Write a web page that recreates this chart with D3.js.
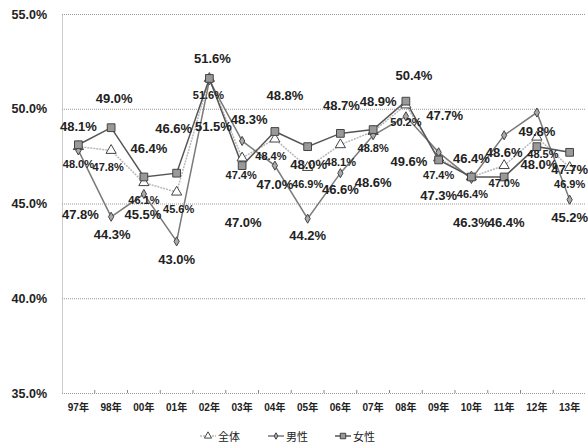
<!DOCTYPE html>
<html>
<head>
<meta charset="utf-8">
<script src="https://cdn.jsdelivr.net/npm/d3@7"></script>
<style>
  body { margin: 0; background: #fff; }
  svg { font-family: "Liberation Sans", Arial, sans-serif; }
</style>
</head>
<body>
<svg id="chart" width="588" height="446"></svg>
<script>
var years = ["97年","98年","00年","01年","02年","03年","04年","05年","06年","07年","08年","09年","10年","11年","12年","13年"];
var allVals   = [48.0,47.8,46.1,45.6,51.6,47.4,48.4,46.9,48.1,48.8,50.2,47.4,46.4,47.0,48.5,46.9];
var menVals   = [47.8,44.3,45.5,43.0,51.5,48.3,47.0,44.2,46.6,48.6,49.6,47.7,46.3,48.6,49.8,45.2];
var womenVals = [48.1,49.0,46.4,46.6,51.6,47.0,48.8,48.0,48.7,48.9,50.4,47.3,46.4,46.4,48.0,47.7];
var yTicks = [35,40,45,50,55];
var seriesNames = ["全体","男性","女性"];

// label nudges (px) relative to each marker, as placed in the original
var allDx   = [0,-3,0,2,-1,-1,-4,0,0,0,0,0,1,0,6,0];
var menDx   = [2,1,-1,0,4,7,0,0,0,0,3,6,0,0,0,0];
var menDy   = [64,18,20,18,46,-21,19,17,16,47,45,-37,44,17,19,18];
var womenDx = [0,3,5,-3,3,1,10,1,1,5,8,0,0,2,2,0];
var womenDy = [-18,-29,-28,-45,-20,57,-36,18,-28,-28,-26,36,-18,46,18,17];

var plotLeft = 62, plotRight = 586, plotTop = 14, plotBottom = 393;

var svg = d3.select("#chart");

var x = d3.scaleBand().domain(years).range([plotLeft, plotRight]);
var y = d3.scaleLinear().domain([35, 55]).range([plotBottom, plotTop]);
var cx = function(i) { return x(years[i]) + x.bandwidth() / 2; };

// grid + y labels
var yAxis = svg.append("g")
    .attr("transform", "translate(" + plotLeft + ",0)")
    .call(d3.axisLeft(y).tickValues(yTicks)
        .tickSizeInner(-(plotRight - plotLeft)).tickSizeOuter(0).tickPadding(15)
        .tickFormat(function(d) { return d.toFixed(1) + "%"; }));
yAxis.select(".domain").attr("stroke", "#999").attr("stroke-dasharray", "1,1");
yAxis.selectAll(".tick line").attr("stroke", "#999").attr("stroke-dasharray", "1,1");
yAxis.selectAll(".tick text")
    .attr("font-size", 12.5).attr("font-weight", "bold").attr("fill", "#222")
    .attr("font-family", "Liberation Sans, Arial, sans-serif");

// x axis
var xAxis = svg.append("g")
    .attr("transform", "translate(0," + plotBottom + ")")
    .call(d3.axisBottom(x).tickSize(0).tickPadding(11));
xAxis.select(".domain").remove();
xAxis.selectAll(".tick text")
    .attr("font-size", 10).attr("font-weight", "bold").attr("fill", "#222")
    .attr("font-family", "Liberation Sans, Noto Sans CJK JP, sans-serif");
svg.append("g").selectAll("line")
    .data(years.slice(1))
    .join("line")
    .attr("x1", function(d) { return x(d); })
    .attr("x2", function(d) { return x(d); })
    .attr("y1", plotBottom).attr("y2", plotBottom - 3)
    .attr("stroke", "#888");

var line = d3.line()
    .x(function(d, i) { return cx(i); })
    .y(function(d) { return y(d); });

var series = [
  {name: seriesNames[0], vals: allVals, stroke: "#b8b8b8", width: 1.5, dash: "2,1", shape: d3.symbolTriangle, size: 45, fill: "#fff", mstroke: "#444"},
  {name: seriesNames[1], vals: menVals, stroke: "#7a7a7a", width: 1.5, dash: null, shape: d3.symbolDiamond, size: 24, fill: "#aaa", mstroke: "#444"},
  {name: seriesNames[2], vals: womenVals, stroke: "#555", width: 1.5, dash: null, shape: d3.symbolSquare, size: 60, fill: "#999", mstroke: "#444"}
];

series.forEach(function(s) {
  svg.append("path")
     .datum(s.vals)
     .attr("d", line)
     .attr("fill", "none")
     .attr("stroke", s.stroke)
     .attr("stroke-width", s.width)
     .attr("stroke-dasharray", s.dash);
});

series.forEach(function(s) {
  svg.append("g").selectAll("path")
     .data(s.vals)
     .join("path")
     .attr("transform", function(d, i) { return "translate(" + cx(i) + "," + y(d) + ")"; })
     .attr("d", d3.symbol().type(s.shape).size(s.size))
     .attr("fill", s.fill)
     .attr("stroke", s.mstroke)
     .attr("stroke-width", 1);
});

// data labels
function addLabels(vals, dx, dy, size) {
  svg.append("g").selectAll("text")
     .data(vals)
     .join("text")
     .attr("x", function(d, i) { return cx(i) + dx[i]; })
     .attr("y", function(d, i) { return y(d) + (typeof dy === "number" ? dy : dy[i]); })
     .attr("text-anchor", "middle")
     .attr("dominant-baseline", "central")
     .attr("font-size", size)
     .attr("font-weight", "bold")
     .attr("fill", "#222")
     .text(function(d) { return d.toFixed(1) + "%"; });
}
addLabels(allVals, allDx, 17, 11);
addLabels(menVals, menDx, menDy, 13);
addLabels(womenVals, womenDx, womenDy, 13);

// legend
var legendX = [200, 268, 335];
var leg = svg.append("g").selectAll("g")
    .data(series)
    .join("g")
    .attr("transform", function(d, i) { return "translate(" + legendX[i] + ",436)"; });
leg.append("line")
    .attr("x1", 0).attr("x2", 16)
    .attr("stroke", function(d) { return d.stroke; })
    .attr("stroke-width", 1.5)
    .attr("stroke-dasharray", function(d) { return d.dash; });
leg.append("path")
    .attr("transform", "translate(8,0)")
    .attr("d", function(d) { return d3.symbol().type(d.shape).size(d.size * 0.5)(); })
    .attr("fill", function(d) { return d.fill; })
    .attr("stroke", function(d) { return d.mstroke; });
leg.append("text")
    .attr("x", 18)
    .attr("dominant-baseline", "central")
    .attr("font-size", 11)
    .attr("fill", "#222")
    .attr("font-family", "Noto Sans CJK JP, sans-serif")
    .text(function(d) { return d.name; });
</script>
</body>
</html>
